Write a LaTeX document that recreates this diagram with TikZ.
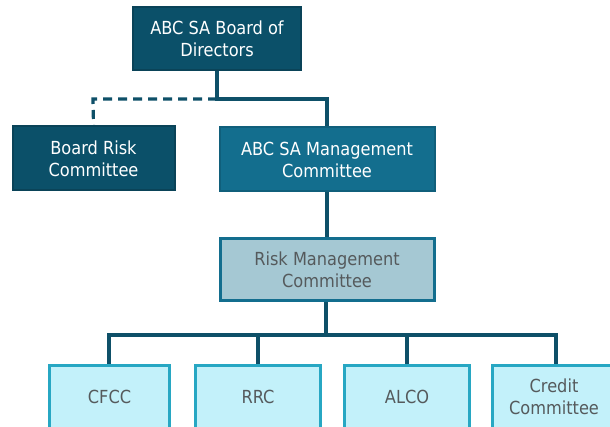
\documentclass[tikz,border=0pt]{standalone}
\usepackage{fontspec}
\setmainfont{DejaVu Sans Condensed}
\usetikzlibrary{backgrounds}
\begin{document}
\begin{tikzpicture}[x=1pt,y=-1pt,
  box/.style={align=center,font=\fontsize{18}{22}\selectfont,inner sep=0pt},
  dk/.style={box,draw=dkline,fill=dkfill,line width=2pt,text=white},
  md/.style={box,draw=mdline,fill=mdfill,line width=2pt,text=white},
  rm/.style={box,draw=mdfill,fill=rmfill,line width=3pt,text=txtgray},
  lf/.style={box,draw=lfline,fill=lffill,line width=3pt,text=txtgray},
  conn/.style={draw=connc,line width=3.2pt,line join=miter}
]
\definecolor{dkfill}{HTML}{0B5069}
\definecolor{dkline}{HTML}{0A4358}
\definecolor{mdfill}{HTML}{136E8E}
\definecolor{mdline}{HTML}{105F7B}
\definecolor{rmfill}{HTML}{A5C8D3}
\definecolor{lffill}{HTML}{C3F1FA}
\definecolor{lfline}{HTML}{27A7C3}
\definecolor{txtgray}{HTML}{555A5C}
\definecolor{connc}{HTML}{0E5068}
\useasboundingbox (0,0) rectangle (610,427);
\clip (0,0) rectangle (610,427);
\coordinate (j1) at (217,99);
\coordinate (j2) at (93,99);
\coordinate (j3) at (327,99);
\coordinate (j4) at (326,335);
\coordinate (l1) at (109,335);
\coordinate (l4) at (556,335);
\node[dk,minimum width=168,minimum height=63] (bod) at (217,39) {ABC SA Board of\\Directors};
\node[dk,minimum width=162,minimum height=64] (brc) at (93.5,158.5) {Board Risk\\Committee};
\node[md,minimum width=215,minimum height=64] (mgc) at (327,159.5) {ABC SA Management\\Committee};
\node[rm,minimum width=214,minimum height=62] (rmc) at (327,270) {Risk Management\\Committee};
\node[lf,minimum width=120,minimum height=64] (cfcc) at (109.5,397) {CFCC};
\node[lf,minimum width=125,minimum height=64] (rrc) at (258,397) {RRC};
\node[lf,minimum width=125,minimum height=64] (alco) at (407,397) {ALCO};
\node[lf,minimum width=124,minimum height=64] (cred) at (554,397) {Credit\\Committee};
\begin{scope}[on background layer]
\draw[conn] (bod.south) -- (j1) -- (j3) -- (mgc.north);
\draw[conn,dash pattern=on 9pt off 6pt] (j1) -- (j2) -- (brc.north);
\draw[conn] (mgc.south) -- (rmc.north);
\draw[conn] (rmc.south -| j4) -- (j4);
\draw[conn] (cfcc.north -| l1) -- (l1) -- (l4) -- (cred.north -| l4);
\draw[conn] (rrc.north |- j4) -- (rrc.north);
\draw[conn] (alco.north |- j4) -- (alco.north);
\end{scope}
\end{tikzpicture}
\end{document}
